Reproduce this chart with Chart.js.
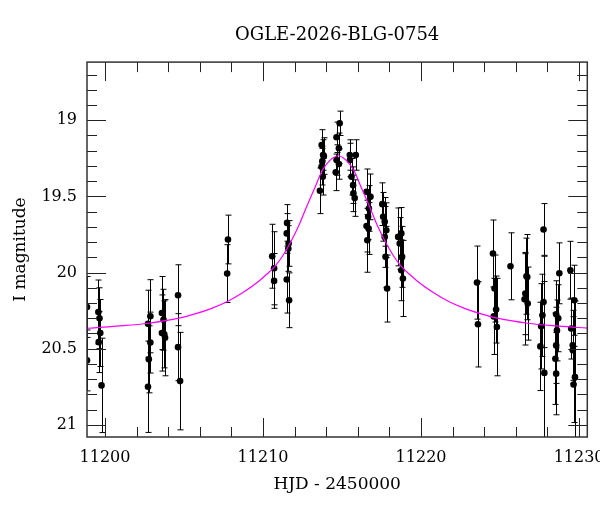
<!DOCTYPE html>
<html>
<head>
<meta charset="utf-8">
<script src="https://cdn.jsdelivr.net/npm/chart.js@4.4.1/dist/chart.umd.min.js"></script>
<style>
  html, body { margin: 0; padding: 0; background: #fff; }
  canvas { display: block; }
</style>
</head>
<body>
<canvas id="c" width="600" height="512"></canvas>
<script>
// ---- data ----
const titleText = 'OGLE-2026-BLG-0754';
const xTitle = 'HJD - 2450000';
const yTitle = 'I magnitude';

const hjd = [
  11198.86, 11198.86,
  11199.58, 11199.65, 11199.70, 11199.60, 11199.78,
  11202.72, 11202.87, 11202.87, 11202.77, 11202.72,
  11203.60, 11203.70, 11203.60, 11203.75, 11203.80,
  11204.62, 11204.62, 11204.75,
  11207.78, 11207.73,
  11210.58, 11210.70, 11210.70,
  11211.52, 11211.50, 11211.62, 11211.60, 11211.50, 11211.65,
  11213.71, 11213.80, 11213.85, 11213.75, 11213.70, 11213.78, 11213.60,
  11214.85, 11214.65, 11214.80, 11214.65, 11214.80, 11214.60,
  11215.49, 11215.87, 11215.50, 11215.60, 11215.70, 11215.72, 11215.80,
  11216.55, 11216.80, 11216.70, 11216.65, 11216.55, 11216.68, 11216.60,
  11217.55, 11217.60, 11217.70, 11217.80, 11217.70, 11217.75, 11217.85,
  11218.55, 11218.75, 11218.65, 11218.80, 11218.75, 11218.85,
  11223.54, 11223.60,
  11224.55, 11224.65, 11224.60, 11224.75, 11224.80,
  11225.66,
  11226.67, 11226.72, 11226.60, 11226.55, 11226.75,
  11227.75, 11227.75, 11227.68, 11227.60, 11227.55, 11227.80,
  11228.75, 11228.55, 11228.68, 11228.60, 11228.55, 11228.50, 11228.55,
  11229.45, 11229.70, 11229.50, 11229.60, 11229.60, 11229.74, 11229.65
];
const imag = [
  20.226, 20.577,
  20.259, 20.300, 20.397, 20.457, 20.741,
  20.336, 20.287, 20.460, 20.570, 20.750,
  20.266, 20.310, 20.397, 20.406, 20.428,
  20.149, 20.490, 20.713,
  19.783, 20.007,
  19.893, 19.972, 20.055,
  19.674, 19.743, 19.809, 19.842, 20.046, 20.182,
  19.162, 19.228, 19.235, 19.270, 19.305, 19.371, 19.463,
  19.020, 19.112, 19.184, 19.261, 19.287, 19.342,
  19.228, 19.228, 19.261, 19.371, 19.426, 19.480, 19.511,
  19.470, 19.503, 19.579, 19.634, 19.695, 19.711, 19.788,
  19.551, 19.634, 19.667, 19.722, 19.766, 19.897, 20.105,
  19.766, 19.743, 19.809, 19.897, 19.985, 20.039,
  20.066, 20.340,
  19.875, 20.105, 20.288, 20.243, 20.358,
  19.959,
  20.024, 20.030, 20.138, 20.176, 20.204,
  19.717, 20.193, 20.281, 20.353, 20.485, 20.659,
  20.005, 20.274, 20.300, 20.380, 20.478, 20.566, 20.664,
  19.985, 20.182, 20.368, 20.478, 20.510, 20.687, 20.735
];
const ierr = [
  0.20, 0.20,
  0.21, 0.20, 0.22, 0.20, 0.31,
  0.22, 0.24, 0.20, 0.22, 0.30,
  0.24, 0.20, 0.25, 0.22, 0.25,
  0.20, 0.22, 0.32,
  0.16, 0.19,
  0.21, 0.24, 0.18,
  0.12, 0.13, 0.15, 0.15, 0.22, 0.18,
  0.10, 0.10, 0.12, 0.10, 0.12, 0.12, 0.15,
  0.08, 0.10, 0.10, 0.10, 0.10, 0.12,
  0.10, 0.10, 0.11, 0.12, 0.12, 0.12, 0.12,
  0.15, 0.15, 0.15, 0.15, 0.17, 0.17, 0.21,
  0.14, 0.16, 0.16, 0.18, 0.20, 0.20, 0.22,
  0.19, 0.17, 0.17, 0.20, 0.20, 0.25,
  0.24, 0.28,
  0.22, 0.22, 0.25, 0.22, 0.32,
  0.22,
  0.25, 0.28, 0.27, 0.30, 0.24,
  0.17, 0.30, 0.27, 0.28, 0.29, 0.60,
  0.20, 0.22, 0.22, 0.20, 0.25, 0.30, 0.27,
  0.19, 0.23, 0.20, 0.23, 0.22, 0.50, 0.25
];

// model light curve, sampled from the magenta line
const modelHjd = [
  11198.85, 11200.75, 11202.75, 11204.75, 11205.75, 11206.75, 11207.75, 11208.75, 11209.75,
  11210.25, 11210.75, 11211.25, 11211.75, 11212.25, 11212.75, 11213.25, 11213.75, 11214.25,
  11214.75,
  11215.25, 11215.75, 11216.25, 11216.75, 11217.25, 11217.75, 11218.25, 11218.75, 11219.25,
  11219.75, 11220.75, 11221.75, 11222.75, 11223.75, 11224.75, 11226.75, 11228.75, 11230.52
];
const modelMag = [
  20.366, 20.352, 20.333, 20.298, 20.270, 20.235, 20.190, 20.130, 20.055,
  20.010, 19.960, 19.890, 19.800, 19.695, 19.570, 19.450, 19.330, 19.262,
  19.233,
  19.262, 19.330, 19.450, 19.570, 19.695, 19.800, 19.890, 19.960, 20.010,
  20.055, 20.130, 20.190, 20.235, 20.270, 20.298, 20.333, 20.352, 20.365
];

// axes
const xMin = 11198.86, xMax = 11230.52;
const yMin = 18.618, yMax = 21.08;
const xMajorTicks = [11200, 11210, 11220, 11230];
const xMinorTicks = [11200, 11202, 11204, 11206, 11208, 11210, 11212, 11214, 11216, 11218, 11220, 11222, 11224, 11226, 11228, 11230];
const yMajorTicks = [19, 19.5, 20, 20.5, 21];
const yMinorTicks = [18.7, 18.8, 18.9, 19.0, 19.1, 19.2, 19.3, 19.4, 19.5, 19.6, 19.7, 19.8, 19.9, 20.0, 20.1, 20.2, 20.3, 20.4, 20.5, 20.6, 20.7, 20.8, 20.9, 21.0];
const xTickLabels = ['11200', '11210', '11220', '11230'];
const yTickLabels = ['19', '19.5', '20', '20.5', '21'];

// ---- chart ----
const FONT = "'DejaVu Serif', serif";

const decor = {
  id: 'decor',
  beforeDatasetsDraw(chart) {
    const { ctx, chartArea: a, scales: { x, y } } = chart;
    ctx.save();
    ctx.beginPath();
    ctx.rect(a.left, a.top, a.right - a.left, a.bottom - a.top);
    ctx.clip();
    ctx.strokeStyle = '#000';
    ctx.lineWidth = 1;
    const cap = 3;
    for (let i = 0; i < hjd.length; i++) {
      const px = Math.round(x.getPixelForValue(hjd[i])) + 0.5;
      const y1 = y.getPixelForValue(imag[i] - ierr[i]);
      const y2 = y.getPixelForValue(imag[i] + ierr[i]);
      ctx.beginPath();
      ctx.moveTo(px, y1); ctx.lineTo(px, y2);
      ctx.moveTo(px - cap, y1); ctx.lineTo(px + cap, y1);
      ctx.moveTo(px - cap, y2); ctx.lineTo(px + cap, y2);
      ctx.stroke();
    }
    ctx.restore();
  },
  afterDraw(chart) {
    const { ctx, chartArea: a, scales: { x, y } } = chart;
    ctx.save();
    ctx.strokeStyle = '#222';
    ctx.lineWidth = 1;
    const majL = 19, minL = 10;
    ctx.beginPath();
    const xt = (vals, len) => vals.forEach(v => {
      const px = Math.round(x.getPixelForValue(v)) + 0.5;
      ctx.moveTo(px, a.bottom); ctx.lineTo(px, a.bottom - len);
      ctx.moveTo(px, a.top); ctx.lineTo(px, a.top + len);
    });
    const yt = (vals, len) => vals.forEach(v => {
      const py = Math.round(y.getPixelForValue(v)) + 0.5;
      ctx.moveTo(a.left, py); ctx.lineTo(a.left + len, py);
      ctx.moveTo(a.right, py); ctx.lineTo(a.right - len, py);
    });
    xt(xMinorTicks, minL); xt(xMajorTicks, majL);
    yt(yMinorTicks, minL); yt(yMajorTicks, majL);
    ctx.stroke();
    ctx.strokeStyle = '#333';
    ctx.lineWidth = 1.5;
    ctx.strokeRect(a.left, a.top, a.right - a.left, a.bottom - a.top);
    ctx.restore();
  }
};

const obsPoints = hjd.map((t, i) => ({ x: t, y: imag[i] }));
const modelPoints = modelHjd.map((t, i) => ({ x: t, y: modelMag[i] }));

new Chart(document.getElementById('c'), {
  type: 'scatter',
  data: {
    datasets: [
      {
        type: 'line',
        label: 'model',
        data: modelPoints,
        borderColor: '#ff00ff',
        borderWidth: 1.2,
        pointRadius: 0,
        fill: false,
        cubicInterpolationMode: 'monotone',
        order: 0
      },
      {
        label: 'OGLE I',
        data: obsPoints,
        backgroundColor: '#000',
        borderColor: '#000',
        borderWidth: 0,
        pointRadius: 3.3,
        order: 1
      }
    ]
  },
  options: {
    responsive: false,
    animation: false,
    devicePixelRatio: 1,
    layout: { padding: { left: 0, right: 12.7, top: 0, bottom: 0 } },
    plugins: {
      legend: { display: false },
      tooltip: { enabled: false },
      title: {
        display: true,
        text: titleText,
        fullSize: false,
        color: '#000',
        font: { family: FONT, size: 18, weight: 'normal' },
        padding: { top: 24.5, bottom: 16 }
      }
    },
    scales: {
      x: {
        type: 'linear',
        position: 'bottom',
        min: xMin, max: xMax,
        grid: { display: false, drawTicks: false },
        border: { display: false },
        afterBuildTicks: s => { s.ticks = xMajorTicks.map(v => ({ value: v })); },
        afterFit: s => { s.height = 75; s.paddingLeft = 0; s.paddingRight = 0; },
        ticks: {
          color: '#000', padding: 11, maxRotation: 0, autoSkip: false,
          font: { family: FONT, size: 16 },
          callback: (v) => xTickLabels[xMajorTicks.indexOf(v)] ?? ''
        },
        title: {
          display: true, text: xTitle, color: '#000',
          font: { family: FONT, size: 17 },
          padding: { top: 0, bottom: 17 }
        }
      },
      y: {
        type: 'linear',
        position: 'left',
        reverse: true,
        min: yMin, max: yMax,
        grid: { display: false, drawTicks: false },
        border: { display: false },
        afterBuildTicks: s => { s.ticks = yMajorTicks.map(v => ({ value: v })); },
        afterFit: s => { s.width = 87; s.paddingTop = 0; s.paddingBottom = 0; },
        ticks: {
          color: '#000', padding: 10, autoSkip: false,
          font: { family: FONT, size: 16 },
          callback: (v) => yTickLabels[yMajorTicks.indexOf(v)] ?? ''
        },
        title: {
          display: true, text: yTitle, color: '#000',
          font: { family: FONT, size: 17 },
          padding: { top: 10, bottom: 0 }
        }
      }
    }
  },
  plugins: [decor]
});
</script>
</body>
</html>
